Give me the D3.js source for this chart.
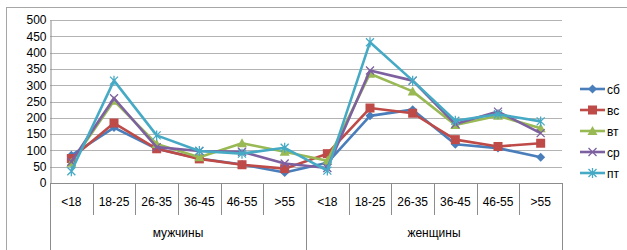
<!DOCTYPE html>
<html lang="ru">
<head>
<meta charset="utf-8">
<script src="https://d3js.org/d3.v7.min.js"></script>
<style>
  body { margin:0; background:#fff; }
  svg text { font-family:"Liberation Sans", Arial, sans-serif; fill:#000; }
</style>
</head>
<body>
<svg id="chart" width="627" height="250"></svg>
<script>
// data
const groups = ["мужчины", "женщины"];
const ages = ["<18", "18-25", "26-35", "36-45", "46-55", ">55"];
const seriesNames = ["сб", "вс", "вт", "ср", "пт"];
const sb = [85, 170, 105, 75, 57, 32,  62, 206, 225, 119, 107, 79];
const vs = [75, 184, 105, 74, 56, 44,  90, 230, 214, 133, 112, 122];
const vt = [62, 252, 120, 79, 122, 96, 68, 335, 281, 178, 206, 168];
const sr = [65, 260, 110, 98, 96, 60,  46, 345, 314, 181, 219, 153];
const pt = [36, 314, 146, 98, 90, 108, 38, 432, 314, 191, 211, 189];
const yTicks = [0, 50, 100, 150, 200, 250, 300, 350, 400, 450, 500];

const colors = ["#4A7EBB", "#BE4B48", "#98B954", "#7D60A0", "#46AAC5"];
const shapes = ["diamond", "square", "triangle", "cross", "star"];
const allValues = [sb, vs, vt, sr, pt];

const svg = d3.select("#chart");
const mLeft = 50, mRight = 562, mTop = 20, mBottom = 183;

// frame
svg.append("rect").attr("x",6.5).attr("y",7.5).attr("width",640).attr("height",260)
   .attr("fill","none").attr("stroke","#a6a6a6");

const cats = [];
groups.forEach(g => ages.forEach(a => cats.push(g + "|" + a)));

const x = d3.scaleBand().domain(cats).range([mLeft, mRight]);
const y = d3.scaleLinear().domain([0, 500]).range([mBottom, mTop]);

// grid
svg.append("g").selectAll("line").data(yTicks.slice(1)).join("line")
   .attr("x1",mLeft).attr("x2",mRight)
   .attr("y1",d=>Math.round(y(d))+0.5).attr("y2",d=>Math.round(y(d))+0.5)
   .attr("stroke","#b3b3b3").attr("stroke-width",1);

// y axis
const yAxis = svg.append("g").attr("transform",`translate(${mLeft+0.5},0)`)
   .call(d3.axisLeft(y).tickValues(yTicks).tickSize(0).tickPadding(4));
yAxis.select(".domain").attr("stroke","#8c8c8c");
yAxis.selectAll("text").attr("font-size",12).attr("font-family","Liberation Sans, Arial");

// x axis
svg.append("line").attr("x1",mLeft).attr("x2",mRight)
   .attr("y1",mBottom+0.5).attr("y2",mBottom+0.5).attr("stroke","#8c8c8c");
const bounds = cats.map(c => x(c)).concat([mRight]);
svg.append("g").selectAll("line").data(bounds).join("line")
   .attr("x1",d=>Math.round(d)+0.5).attr("x2",d=>Math.round(d)+0.5)
   .attr("y1",mBottom)
   .attr("y2",(d,i)=> (i % 6 === 0) ? 250 : 215)
   .attr("stroke","#8c8c8c");

svg.append("g").selectAll("text").data(cats).join("text")
   .attr("x",d=>x(d)+x.bandwidth()/2).attr("y",206)
   .attr("text-anchor","middle").attr("font-size",12)
   .text(d=>d.split("|")[1]);

svg.append("g").selectAll("text").data(groups).join("text")
   .attr("x",(d,i)=>mLeft + (mRight-mLeft)/4*(2*i+1)).attr("y",237)
   .attr("text-anchor","middle").attr("font-size",12)
   .text(d=>d);

// markers
function marker(g, shape, color) {
  if (shape === "diamond") {
    g.append("path").attr("d","M0,-4.5L4.5,0L0,4.5L-4.5,0Z").attr("fill",color);
  } else if (shape === "square") {
    g.append("rect").attr("x",-4.5).attr("y",-4.5).attr("width",9).attr("height",9).attr("fill",color);
  } else if (shape === "triangle") {
    g.append("path").attr("d","M0,-5L5,4L-5,4Z").attr("fill",color);
  } else if (shape === "cross") {
    g.append("path").attr("d","M-4,-4L4,4M-4,4L4,-4").attr("stroke",color).attr("stroke-width",1.3);
  } else {
    g.append("path").attr("d","M-4,-4L4,4M-4,4L4,-4M0,-5L0,5").attr("stroke",color).attr("stroke-width",1.3);
  }
}

const line = d3.line().x((d,i)=>x(cats[i])+x.bandwidth()/2).y(d=>y(d));

allValues.forEach((vals, s) => {
  svg.append("path").datum(vals).attr("d",line)
     .attr("fill","none").attr("stroke",colors[s]).attr("stroke-width",2.6)
     .attr("stroke-linejoin","round");
  vals.forEach((v,i) => {
    const g = svg.append("g")
       .attr("transform",`translate(${x(cats[i])+x.bandwidth()/2},${y(v)})`);
    marker(g, shapes[s], colors[s]);
  });
});

// legend
const legend = svg.append("g");
seriesNames.forEach((n, s) => {
  const ly = 89 + s*21;
  legend.append("line").attr("x1",580).attr("x2",605).attr("y1",ly).attr("y2",ly)
        .attr("stroke",colors[s]).attr("stroke-width",2.6);
  marker(legend.append("g").attr("transform",`translate(592.5,${ly})`), shapes[s], colors[s]);
  legend.append("text").attr("x",607).attr("y",ly+4.5).attr("font-size",12).text(n);
});
</script>
</body>
</html>
